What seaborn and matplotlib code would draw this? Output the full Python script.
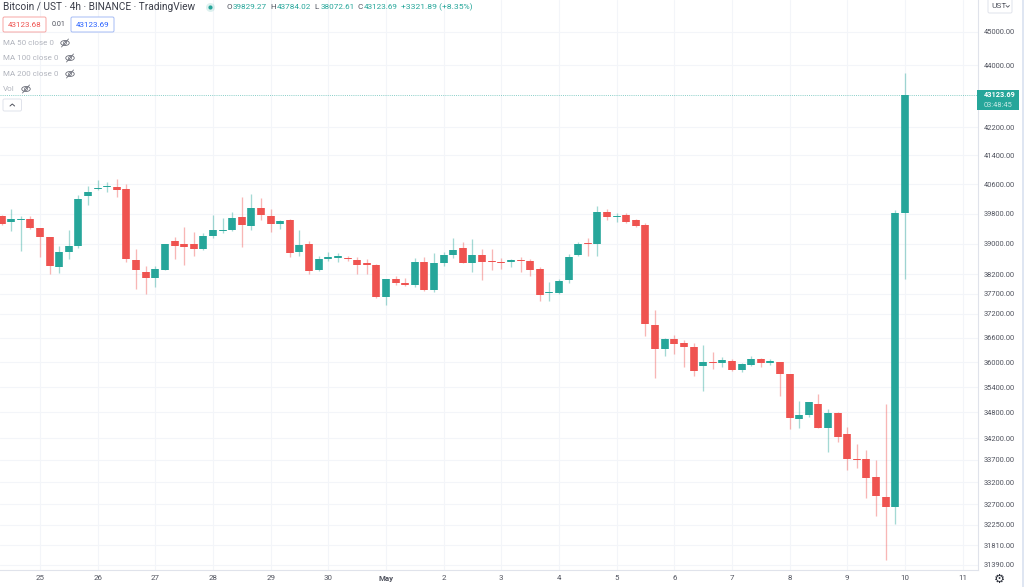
import numpy as np
import pandas as pd
import seaborn as sns
import matplotlib.pyplot as plt
from matplotlib.patches import Ellipse, FancyBboxPatch, Rectangle

# 4h candles, first one is 24 Apr 16:00
opens = [39735, 39566, 39637, 39664, 39415, 39174, 38389, 38776, 38934, 40281, 40465, 40511, 40530, 40465, 38569, 38268,
         38096, 38311, 39085, 38996, 38987, 38854, 39210, 39343, 39352, 39717, 39477, 39957, 39735, 39521, 39637, 38776,
         38987, 38311, 38604, 38638, 38630, 38578, 38492, 38432, 37632, 38088, 37976, 37924, 38518, 37794, 38492, 38698,
         38880, 38509, 38698, 38561, 38526, 38518, 38578, 38561, 38329, 37718, 37727, 38045, 38698, 39014, 38987, 39851,
         39717, 39753, 39619, 39495, 36914, 36322, 36566, 36466, 36366, 35898, 36010, 35970, 36034, 35817, 35922, 36082,
         35978, 36002, 35713, 34635, 34736, 35000, 34425, 34782, 34285, 33725, 33718, 33305, 32860, 32640, 39829.27]
highs = [39770, 39931, 39735, 39726, 39415, 39174, 38945, 39361, 40309, 40539, 40723, 40668, 40751, 40594, 38863, 38423,
         38423, 38996, 39174, 39441, 39308, 39281, 39770, 39681, 39859, 40245, 40337, 40217, 39922, 39637, 39655, 39370,
         39085, 38690, 38776, 38750, 38673, 38664, 38604, 38458, 38088, 38165, 38114, 38621, 38664, 38759, 38784, 39156,
         39058, 39130, 38854, 38862, 38621, 38595, 38664, 38595, 38380, 38010, 38079, 38724, 39050, 39148, 40011, 39931,
         39815, 39806, 39655, 39548, 37297, 36597, 36674, 36549, 36482, 36424, 36251, 36122, 36074, 35978, 36154, 36106,
         36082, 36002, 35713, 35070, 35039, 35230, 34883, 34805, 34448, 34060, 33936, 33696, 35000, 39904, 43784.02]
lows = [39504, 39325, 38802, 39397, 38664, 38217, 38225, 38612, 38898, 40046, 40429, 40392, 40245, 38526, 37838, 37709,
        37864, 38311, 38612, 38432, 38681, 38836, 39148, 39290, 39334, 38916, 39370, 39637, 39299, 39397, 38664, 38681,
        38208, 38294, 38561, 38518, 38552, 38200, 38208, 37598, 37422, 37916, 37907, 37864, 37787, 37761, 38406, 38630,
        38500, 38268, 38062, 38303, 38346, 38397, 38268, 38165, 37530, 37530, 37692, 37976, 38681, 38681, 38681, 39619,
        39575, 39548, 39432, 36631, 35608, 36162, 36195, 35873, 35657, 35295, 35841, 35881, 35785, 35753, 35898, 35881,
        35922, 35199, 34417, 34433, 34697, 34425, 33890, 34099, 33470, 33520, 32850, 32450, 31490, 32278, 38072.61]
closes = [39521, 39664, 39664, 39415, 39174, 38406, 38784, 38934, 40208, 40392, 40502, 40539, 40429, 38595, 38320, 38096,
          38329, 38996, 38952, 38907, 38854, 39210, 39352, 39370, 39690, 39486, 39948, 39762, 39521, 39592, 38767, 38978,
          38277, 38604, 38655, 38673, 38595, 38449, 38440, 37632, 38071, 37985, 37924, 38518, 37794, 38492, 38707, 38836,
          38509, 38698, 38518, 38535, 38492, 38570, 38544, 38303, 37684, 37744, 38019, 38664, 38996, 38987, 39833, 39699,
          39744, 39575, 39477, 36939, 36314, 36580, 36449, 36366, 35793, 36002, 35986, 36050, 35817, 35946, 36074, 35978,
          36026, 35705, 34658, 34736, 35039, 34425, 34782, 34223, 33710, 33703, 33290, 32880, 32650, 39829, 43123.69]

price_ticks = [45000, 44000, 42200, 41400, 40600, 39800, 39000, 38200, 37700, 37200, 36600, 36000, 35400, 34800, 34200,
               33700, 33200, 32700, 32250, 31810, 31390]
day_labels = ['25', '26', '27', '28', '29', '30', 'May', '2', '3', '4', '5', '6', '7', '8', '9', '10', '11']
last_price = 43123.69

UP = '#26a69a'
DOWN = '#ef5350'
GRID = '#f3f5f9'
AXIS_LINE = '#e0e3eb'
TEXT = '#50535e'
FADED = '#b2b5be'

sns.set_theme(style='white')
plt.rcParams['font.family'] = ['Roboto', 'DejaVu Sans']

W, H = 1024, 587
fig = plt.figure(figsize=(W / 100, H / 100), dpi=100, facecolor='white')
ax = fig.add_axes([0, 17 / H, 977.5 / W, 570 / H])

candles = pd.DataFrame({'open': opens, 'high': highs, 'low': lows, 'close': closes})
candles['bar'] = np.arange(len(candles)) - 4  # bar 0 sits on the 25 Apr tick
candles['side'] = np.where(candles['close'] >= candles['open'], 'up', 'down')
palette = {'up': UP, 'down': DOWN}

wicks = candles.melt(id_vars=['bar', 'side'], value_vars=['high', 'low'], value_name='price')
bodies = candles.melt(id_vars=['bar', 'side'], value_vars=['open', 'close'], value_name='price')

sns.lineplot(data=wicks, x='bar', y='price', hue='side', units='bar', estimator=None, palette=palette,
             linewidth=0.95, alpha=0.42, legend=False, ax=ax, solid_capstyle='butt', zorder=3)
sns.lineplot(data=bodies, x='bar', y='price', hue='side', units='bar', estimator=None, palette=palette,
             linewidth=5.5, legend=False, ax=ax, solid_capstyle='butt', zorder=5)

ax.set_yscale('log')
ax.set_xlim(-4.16, 97.55)
ax.set_ylim(31284, 45983)
ax.set_xlabel('')
ax.set_ylabel('')

ax.yaxis.tick_right()
ax.set_yticks(price_ticks)
ax.set_yticklabels([f'{p:.2f}' for p in price_ticks], fontsize=5.45, color=TEXT)
ax.minorticks_off()
ax.set_xticks(np.arange(len(day_labels)) * 6)
ax.set_xticklabels(day_labels, fontsize=5.7, color=TEXT)
for lab in ax.get_xticklabels():
    if lab.get_text() == 'May':
        lab.set_fontweight('bold')
ax.tick_params(axis='y', length=0, pad=4.5)
ax.tick_params(axis='x', length=0, pad=3.5)
ax.grid(True, color=GRID, linewidth=0.8)
ax.set_axisbelow(True)
for side in ['top', 'left']:
    ax.spines[side].set_visible(False)
for side in ['right', 'bottom']:
    ax.spines[side].set_color(AXIS_LINE)
    ax.spines[side].set_linewidth(0.8)

# last price line
ax.axhline(last_price, color=UP, linewidth=0.7, linestyle=(0, (1, 1.2)), alpha=0.55, zorder=2)

# overlay in pixel coordinates for the header and the widgets
ov = fig.add_axes([0, 0, 1, 1], facecolor='none')
ov.set_xlim(0, W)
ov.set_ylim(H, 0)
ov.axis('off')


def label(x, y, s, color=TEXT, size=5.7, **kw):
    ov.text(x, y, s, color=color, fontsize=size, va='center', **kw)


def eye(x, y):
    ov.add_patch(Ellipse((x, y), 8.5, 5, fill=False, ec='#6a6d78', lw=0.6))
    ov.add_patch(Ellipse((x, y), 3, 3, fill=False, ec='#6a6d78', lw=0.5))
    ov.plot([x - 3.5, x + 3.5], [y + 4, y - 4], color='#6a6d78', lw=0.6)


def button(x0, y0, x1, y1, edge, fill='white', lw=0.7):
    ov.add_patch(FancyBboxPatch((x0 + 1.5, y0 + 1.5), x1 - x0 - 3, y1 - y0 - 3, boxstyle='round,pad=1.5',
                                fc=fill, ec=edge, lw=lw, clip_on=False))


label(3, 7, 'Bitcoin / UST · 4h · BINANCE · TradingView', color='#3b3e49', size=7.25)
ov.scatter([210], [6.5], s=42, color=UP, alpha=0.15, linewidths=0)
ov.scatter([210], [6.5], s=9, color=UP, linewidths=0)

for x, key, val in [(226.5, 'O', '39829.27'), (270.5, 'H', '43784.02'), (314.5, 'L', '38072.61'), (357.5, 'C', '43123.69')]:
    label(x, 7, key, size=5.9)
    label(x + 6, 7, val, color=UP, size=5.9)
label(401, 7, '+3321.89 (+8.35%)', color=UP, size=6.1)

button(3, 17, 46, 32, '#f7a6a4')
label(24.5, 25, '43123.68', color='#ef5350', size=5.8, ha='center')
label(52, 25, '0.01', size=5.2)
button(71, 17, 114, 32, '#a5bcf5')
label(92.5, 25, '43123.69', color='#2962ff', size=5.8, ha='center')

for y, name, ex in [(43, 'MA 50 close 0', 65), (58, 'MA 100 close 0', 70), (74, 'MA 200 close 0', 70), (89, 'Vol', 26)]:
    label(3, y, name, color=FADED, size=5.8)
    eye(ex, y)

button(3, 99, 21.5, 111, '#e0e3eb')
ov.plot([10, 12.3, 14.6], [106, 104, 106], color=TEXT, lw=0.7)

# price tag on the axis
ov.add_patch(Rectangle((977, 89.5), 41.5, 20, fc=UP, ec='none'))
label(984, 95, '43123.69', color='white', size=5.3, fontweight='bold')
label(984, 105, '03:48:45', color='#c4e8e4', size=5.45)

# scale button and settings gear
button(988, -2, 1012, 13, '#e0e3eb')
label(991, 6, 'UST', size=6.0)
ov.plot([1006, 1007.7, 1009.4], [5.5, 7.2, 5.5], color=TEXT, lw=0.6)
ov.text(999, 579, '⚙', color='#2a2e39', fontsize=9, ha='center', va='center', family='DejaVu Sans')

ov.add_patch(Rectangle((1022, 0), 2, H, fc='#dfe6f2', ec='none'))

fig.savefig('out.png', dpi=100)
